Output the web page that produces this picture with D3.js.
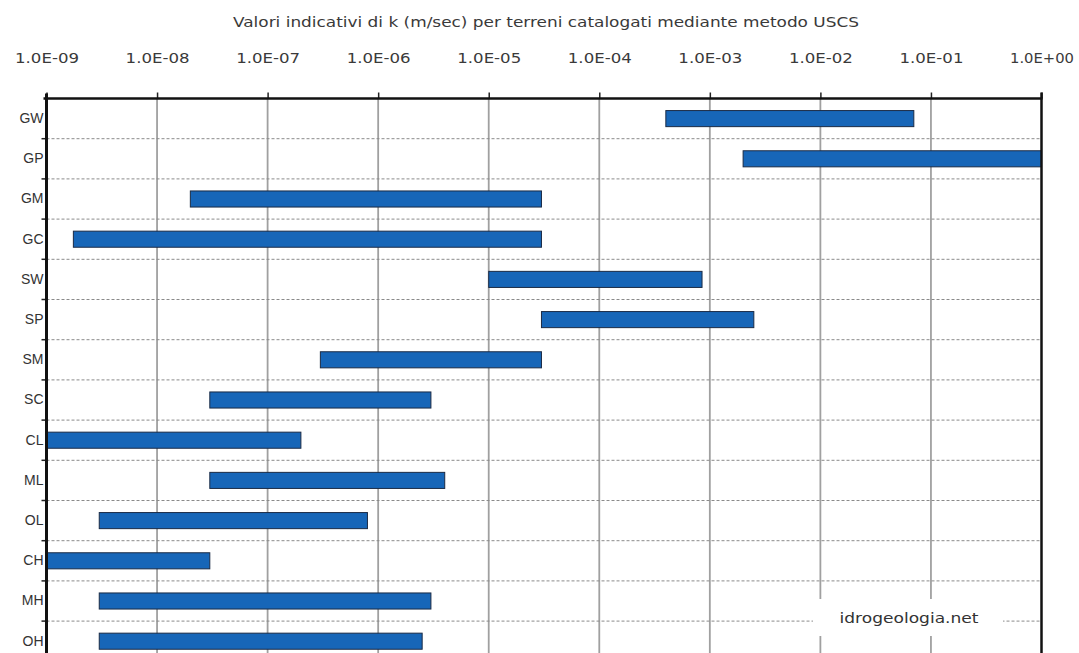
<!DOCTYPE html>
<html>
<head>
<meta charset="utf-8">
<script src="https://cdn.jsdelivr.net/npm/d3@7"></script>
<style>
  html, body { margin: 0; padding: 0; background: #fff; }
  svg { display: block; }
</style>
</head>
<body>
<svg id="chart" width="1079" height="653"></svg>
<script>
const title = "Valori indicativi di k (m/sec) per terreni catalogati mediante metodo USCS";
const categories = ["GW","GP","GM","GC","SW","SP","SM","SC","CL","ML","OL","CH","MH","OH"];
const kMin = [4e-4, 2e-3, 2e-8, 1.75e-9, 1e-5, 3e-5, 3e-7, 3e-8, 1e-9, 3e-8, 3e-9, 1e-9, 3e-9, 3e-9];
const kMax = [7e-2, 1, 3e-5, 3e-5, 8.5e-4, 2.5e-3, 3e-5, 3e-6, 2e-7, 4e-6, 8e-7, 3e-8, 3e-6, 2.5e-6];
const tickValues = [1e-9, 1e-8, 1e-7, 1e-6, 1e-5, 1e-4, 1e-3, 1e-2, 1e-1, 1];
const tickLabels = ["1.0E-09","1.0E-08","1.0E-07","1.0E-06","1.0E-05","1.0E-04","1.0E-03","1.0E-02","1.0E-01","1.0E+00"];
const watermark = "idrogeologia.net";

(function () {
const svg = d3.select("#chart");
const pL = 46.5, pR = 1041.5, pT = 98.5, rowH = 40.2, pB = 653;
const x = d3.scaleLog().domain([1e-9, 1]).range([pL, pR]);
const y = d3.scaleBand().domain(categories).range([pT, pT + rowH * categories.length]).paddingInner(0.6).paddingOuter(0.3);

const data = categories.map((c, i) => ({cat: c, lo: kMin[i], hi: kMax[i]}));

// title
svg.append("text")
  .attr("x", 546).attr("y", 27)
  .attr("text-anchor", "middle")
  .attr("font-family", "DejaVu Sans, Verdana, sans-serif")
  .attr("font-size", 13.5)
  .attr("fill", "#3a3a3a")
  .attr("textLength", 626).attr("lengthAdjust", "spacingAndGlyphs")
  .text(title);

// vertical grid lines
svg.append("g").selectAll("line")
  .data(tickValues.slice(1, -1))
  .join("line")
  .attr("x1", d => x(d)).attr("x2", d => x(d))
  .attr("y1", pT).attr("y2", pB)
  .attr("stroke", "#a0a0a0").attr("stroke-width", 1.8);

// horizontal dashed grid lines at row boundaries
const bounds = d3.range(1, categories.length + 1).map(i => pT + i * y.step());
svg.append("g").selectAll("line")
  .data(bounds)
  .join("line")
  .attr("x1", pL).attr("x2", pR)
  .attr("y1", d => d).attr("y2", d => d)
  .attr("stroke", "#8a8a8a").attr("stroke-width", 1)
  .attr("stroke-dasharray", "3,2");

// left ticks
svg.append("g").selectAll("line")
  .data(bounds)
  .join("line")
  .attr("x1", pL - 5).attr("x2", pL)
  .attr("y1", d => d).attr("y2", d => d)
  .attr("stroke", "#222").attr("stroke-width", 1.5);

// watermark box
svg.append("rect")
  .attr("x", 813).attr("y", 599).attr("width", 190).attr("height", 37)
  .attr("fill", "#fff");
svg.append("text")
  .attr("x", 909).attr("y", 623)
  .attr("text-anchor", "middle")
  .attr("font-family", "DejaVu Sans, Verdana, sans-serif")
  .attr("font-size", 14)
  .attr("fill", "#333")
  .attr("textLength", 139).attr("lengthAdjust", "spacingAndGlyphs")
  .text(watermark);

// bars
svg.append("g").selectAll("rect")
  .data(data)
  .join("rect")
  .attr("x", d => x(d.lo))
  .attr("width", d => x(d.hi) - x(d.lo))
  .attr("y", d => y(d.cat))
  .attr("height", y.bandwidth())
  .attr("fill", "#1766b8")
  .attr("stroke", "#1b2b45").attr("stroke-width", 1);

// top axis
const xAxis = d3.axisTop(x)
  .tickValues(tickValues)
  .tickFormat((d, i) => tickLabels[i])
  .tickSize(6).tickPadding(30);
const gx = svg.append("g").attr("transform", `translate(0,${pT})`).call(xAxis);
gx.select(".domain").remove();
gx.selectAll(".tick line").attr("stroke", "#222").attr("stroke-width", 1.5);
gx.selectAll(".tick text")
  .attr("font-family", "DejaVu Sans, Verdana, sans-serif")
  .attr("font-size", 13.5)
  .attr("fill", "#3a3a3a")
  .attr("textLength", 64).attr("lengthAdjust", "spacingAndGlyphs");

// left axis labels
const yAxis = d3.axisLeft(y).tickSize(0).tickPadding(2);
const gy = svg.append("g").attr("transform", `translate(${pL - 1},0)`).call(yAxis);
gy.select(".domain").remove();
gy.selectAll(".tick text")
  .attr("font-family", "Liberation Sans, Arial, sans-serif")
  .attr("font-size", 14)
  .attr("fill", "#333");

// frame lines
svg.append("line").attr("x1", pL - 3).attr("x2", pR + 1).attr("y1", pT).attr("y2", pT)
  .attr("stroke", "#111").attr("stroke-width", 2.5);
svg.append("line").attr("x1", pL).attr("x2", pL).attr("y1", pT - 5).attr("y2", pB)
  .attr("stroke", "#111").attr("stroke-width", 3);
svg.append("line").attr("x1", pR).attr("x2", pR).attr("y1", pT - 6).attr("y2", pB)
  .attr("stroke", "#111").attr("stroke-width", 2.5);
})();
</script>
</body>
</html>
